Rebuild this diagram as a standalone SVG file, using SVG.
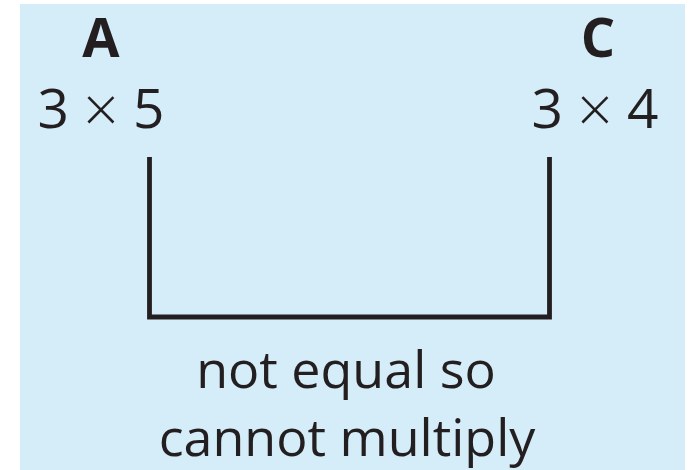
<svg xmlns="http://www.w3.org/2000/svg" width="690" height="470" viewBox="0 0 690 470">
  <style>
    .t { font-family: "Open Sans", "Noto Sans", sans-serif; fill: #231f20; text-anchor: middle; }
    .head { font-size: 54px; font-weight: bold; }
    .expr { font-size: 55px; }
    .times { font-size: 62px; font-weight: 300; }
    .lbl { font-size: 52px; }
    .conn { fill: none; stroke: #231f20; stroke-width: 4.8; stroke-linejoin: miter; stroke-linecap: butt; }
  </style>
  <rect x="20" y="4" width="665" height="466" fill="#d5ecf9"/>
  <g id="node-A">
    <text class="t head" x="101" y="57">A</text>
    <text class="t expr" x="101" y="128">3 <tspan class="times" dy="4">×</tspan><tspan dy="-4"> 5</tspan></text>
  </g>
  <g id="node-C">
    <text class="t head" x="598" y="57">C</text>
    <text class="t expr" x="595" y="128">3 <tspan class="times" dy="4">×</tspan><tspan dy="-4"> 4</tspan></text>
  </g>
  <g id="connectors">
    <path class="conn" d="M149.5,157 V317 H549.5 V157"/>
  </g>
  <g id="label">
    <text class="t lbl" x="346" y="388">not equal so</text>
    <text class="t lbl" x="347" y="456">cannot multiply</text>
  </g>
</svg>
